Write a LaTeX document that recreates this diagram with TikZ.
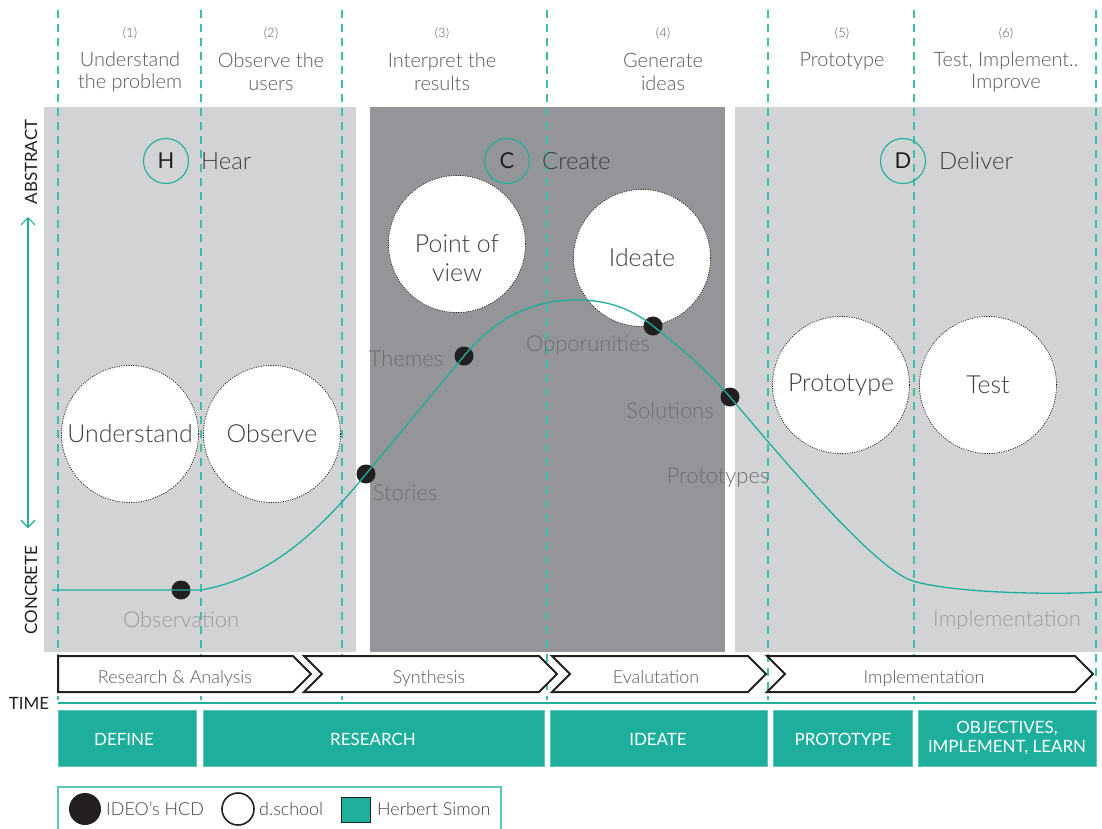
\documentclass[tikz,border=0pt]{standalone}
\usepackage{fontspec}
\setmainfont{Lato Light}
\newfontfamily\regfont{Lato}
\usetikzlibrary{arrows.meta}
\definecolor{tealA}{HTML}{1DAF9C}
\definecolor{tealL}{HTML}{3FBDAC}
\definecolor{tealB}{HTML}{5EC7B8}
\definecolor{panelL}{HTML}{D1D3D4}
\definecolor{panelD}{HTML}{939598}
\definecolor{headgray}{HTML}{58595B}
\definecolor{circtext}{HTML}{404041}
\definecolor{lblD}{HTML}{6D6E71}
\definecolor{lblL}{HTML}{9A9B9E}
\definecolor{inkblk}{HTML}{231F20}
\begin{document}
\begin{tikzpicture}[x=1bp,y=-1bp,
  panel/.style={draw=none},
  vdash/.style={draw=tealL, line width=1.3bp, dash pattern=on 8bp off 6bp},
  head/.style={font=\fontsize{20}{23}\selectfont, text=headgray, align=center, inner sep=0},
  num/.style={font=\fontsize{13}{15}\selectfont, text=headgray, inner sep=0},
  letter/.style={circle, draw=tealA, line width=1.1bp, minimum size=45bp, inner sep=0, font=\regfont\fontsize{22}{24}\selectfont, text=inkblk},
  bigname/.style={font=\fontsize{24}{26}\selectfont, text=circtext, anchor=west, inner sep=0},
  wcirc/.style={circle, fill=white, draw=inkblk, dash pattern=on 1.2bp off 1.2bp, line width=0.7bp, minimum size=137bp, inner sep=0, align=center, font=\fontsize{25}{29}\selectfont, text=circtext},
  ctext/.style={align=center, font=\fontsize{25}{29}\selectfont, text=circtext, inner sep=0},
  dot/.style={circle, fill=inkblk, minimum size=19bp, inner sep=0},
  dlabel/.style={font=\fontsize{22}{24}\selectfont, inner sep=0},
  curve/.style={draw=tealA, line width=1.3bp},
  chev/.style={draw=inkblk, line width=2bp, fill=white, line join=miter},
  chevtxt/.style={font=\fontsize{18}{20}\selectfont, text=headgray, inner sep=0, anchor=base},
  tbox/.style={fill=tealA, draw=tealB, line width=0.8bp},
  tboxtxt/.style={font=\regfont\fontsize{17}{20}\selectfont, text=white, align=center, inner sep=0},
  axis/.style={font=\regfont\fontsize{17}{20}\selectfont, text=inkblk, inner sep=0},
  legtxt/.style={font=\fontsize{18}{20}\selectfont, text=circtext, anchor=west, inner sep=0}
]
\useasboundingbox[fill=white] (0,0) rectangle (1102,829);

% panels
\fill[panelL] (44,107) rectangle (356,652);
\fill[panelD] (370,107) rectangle (725,652);
\fill[panelL] (735,107) rectangle (1102,652);

% dashed phase lines
\foreach \xx in {58,201,342,547,768,914,1096}
  \draw[vdash] (\xx,10) -- (\xx,700);

% headers
\node[num] (n1) at (130,33) {(1)};
\node[head] (h1) at (130,72) {Understand\\the problem};
\node[num] (n2) at (271,33) {(2)};
\node[head] (h2) at (271,72) {Observe the\\users};
\node[num] (n3) at (442,33) {(3)};
\node[head] (h3) at (442,72) {Interpret the\\results};
\node[num] (n4) at (663,33) {(4)};
\node[head] (h4) at (663,72) {Generate\\ideas};
\node[num] (n5) at (842,33) {(5)};
\node[head] (h5) at (842,61) {Prototype};
\node[num] (n6) at (1006,33) {(6)};
\node[head] (h6) at (1006,72) {Test, Implement..\\Improve};

% H C D
\node[letter] (lh) at (166,161) {H};
\node[bigname] (nh) at (201,161) {Hear};
\node[letter] (lc) at (507,161) {C};
\node[bigname] (nc) at (542,161) {Create};
\node[letter] (ld) at (903,161) {D};
\node[bigname] (nd) at (939,161) {Deliver};

% d.school circles
\node[wcirc] (cu) at (130,434) {Understand};
\node[wcirc] (co) at (272,434) {Observe};
\node[wcirc] (cp) at (457,244) {};
\node[ctext] (cpt) at (457,258) {Point of\\view};
\node[wcirc] (ci) at (642,258) {Ideate};
\node[wcirc] (cpr) at (841,385) {Prototype};
\node[wcirc] (ct) at (988,385) {Test};

% IDEO dots
\node[dot] (d1) at (181,590) {};
\node[dot] (d2) at (366,474) {};
\node[dot] (d3) at (464,356) {};
\node[dot] (d4) at (653,326) {};
\node[dot] (d5) at (730,397) {};
\coordinate (cs) at (52,590);
\coordinate (ck) at (201,590);
\coordinate (cpk) at (577,300);
\coordinate (cfl) at (913,581);
\coordinate (ce) at (1102,592);

% curve
\draw[curve] (cs) -- (ck)
  .. controls (270,578) and (320,530) .. (d2.center)
  -- (d3.center)
  .. controls (504,308) and (545,300) .. (cpk)
  .. controls (610,300) and (633,310) .. (d4.center)
  .. controls (678,346) and (705,368) .. (d5.center)
  .. controls (772,446) and (873,569) .. (cfl)
  .. controls (953,593) and (1050,595) .. (ce);

% labels on curve
\node[dlabel, text=lblL] (l1) at (181,620) {Observation};
\node[dlabel, text=lblD] (l2) at (405,493) {Stories};
\node[dlabel, text=lblD] (l3) at (406,359) {Themes};
\node[dlabel, text=lblD] (l4) at (588,346) {Opporunities};
\node[dlabel, text=lblD] (l5) at (670,411) {Solutions};
\node[dlabel, text=lblD] (l6) at (718,478) {Prototypes};
\node[dlabel, text=lblL] (l7) at (1007,620) {Implementation};

% axis
\node[axis, rotate=90] (ab) at (31,162) {ABSTRACT};
\node[axis, rotate=90] (cn) at (31,590) {CONCRETE};
\coordinate (at) at (28,217);
\coordinate (ab2) at (28,528);
\draw[tealA, line width=1.2bp, {Straight Barb[length=7bp,width=14bp]}-{Straight Barb[length=7bp,width=14bp]}] (at) -- (ab2);

% chevrons
\draw[chev] (58,656) -- (293,656) -- (311,674) -- (293,692) -- (58,692) -- cycle;
\node[chevtxt] (t1) at (175,683) {Research \& Analysis};
\draw[chev] (304,656) -- (539,656) -- (557,674) -- (539,692) -- (304,692) -- (322,674) -- cycle;
\node[chevtxt] (t2) at (429,683) {Synthesis};
\draw[chev] (552,656) -- (748,656) -- (766,674) -- (748,692) -- (552,692) -- (570,674) -- cycle;
\node[chevtxt] (t3) at (656,683) {Evalutation};
\draw[chev] (767,656) -- (1075,656) -- (1093,674) -- (1075,692) -- (767,692) -- (785,674) -- cycle;
\node[chevtxt] (t4) at (924,683) {Implementation};

% time
\node[axis] (time) at (29,703) {TIME};
\coordinate (tl) at (58,703);
\coordinate (tr) at (1096,703);
\draw[tealA, line width=1.3bp] (tl) -- (tr);

% Herbert Simon boxes
\draw[tbox] (58,710) rectangle (196,766);
\node[tboxtxt] (b1) at (124,739) {DEFINE};
\draw[tbox] (203,710) rectangle (544,766);
\node[tboxtxt] (b2) at (373,739) {RESEARCH};
\draw[tbox] (550,710) rectangle (767,766);
\node[tboxtxt] (b3) at (658,739) {IDEATE};
\draw[tbox] (773,710) rectangle (912,766);
\node[tboxtxt] (b4) at (843,739) {PROTOTYPE};
\draw[tbox] (918,710) rectangle (1096,766);
\node[tboxtxt] (b5) at (1007,738) {OBJECTIVES,\\IMPLEMENT, LEARN};

% legend
\draw[tealB, line width=1.3bp] (58,835) -- (58,787) -- (501,787) -- (501,835);
\node[circle, fill=inkblk, minimum size=32bp, inner sep=0] (lg1) at (85,809) {};
\node[legtxt] (lt1) at (106,809) {IDEO's HCD};
\node[circle, draw=inkblk, line width=1.6bp, fill=white, minimum size=32bp, inner sep=0] (lg2) at (238,809) {};
\node[legtxt] (lt2) at (259,809) {d.school};
\node[draw=inkblk, line width=1.6bp, fill=tealA, minimum width=29bp, minimum height=25bp, inner sep=0] (lg3) at (356,810) {};
\node[legtxt] (lt3) at (377,809) {Herbert Simon};
\end{tikzpicture}
\end{document}
